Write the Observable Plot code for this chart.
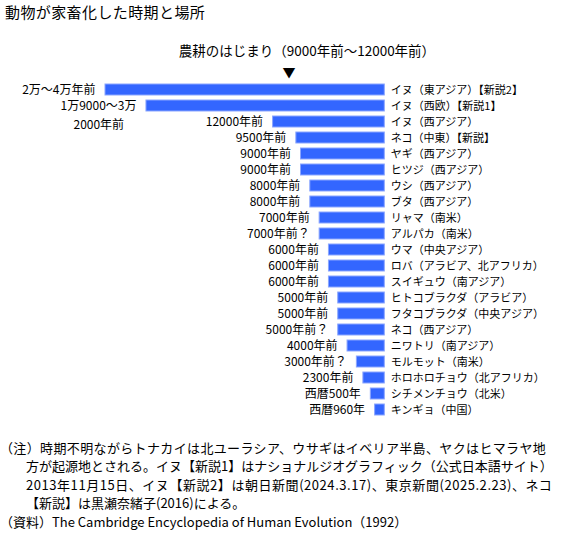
<!DOCTYPE html>
<html><head><meta charset="utf-8">
<script src="https://cdn.jsdelivr.net/npm/d3@7"></script>
<script src="https://cdn.jsdelivr.net/npm/@observablehq/plot@0.6"></script>
<style>
body{margin:0;background:#fff;font-family:"Noto Sans CJK JP",sans-serif;color:#000;width:564px;}
#title{height:26px;line-height:24px;font-size:15px;padding-left:5px;letter-spacing:0.4px;}
#notes{font-size:13px;line-height:18.4px;padding-top:3px;}
#notes div{white-space:nowrap;}
.ind{padding-left:26px;}
</style></head>
<body>
<div id="title">動物が家畜化した時期と場所</div>
<div id="chart"></div>
<div id="notes">
<div style="letter-spacing:0.36px">（注）時期不明ながらトナカイは北ユーラシア、ウサギはイベリア半島、ヤクはヒマラヤ地</div>
<div class="ind">方が起源地とされる。イヌ【新説1】はナショナルジオグラフィック（公式日本語サイト）</div>
<div class="ind" style="letter-spacing:0.55px">2013年11月15日、イヌ【新説2】は朝日新聞(2024.3.17)、東京新聞(2025.2.23)、ネコ</div>
<div class="ind">【新説】は黒瀬奈緒子(2016)による。</div>
<div>（資料）The Cambridge Encyclopedia of Human Evolution（1992）</div>
</div>
<script>
const animals = [
  "イヌ（東アジア）【新説2】","イヌ（西欧）【新説1】","イヌ（西アジア）","ネコ（中東）【新説】",
  "ヤギ（西アジア）","ヒツジ（西アジア）","ウシ（西アジア）","ブタ（西アジア）",
  "リャマ（南米）","アルパカ（南米）","ウマ（中央アジア）","ロバ（アラビア、北アフリカ）",
  "スイギュウ（南アジア）","ヒトコブラクダ（アラビア）","フタコブラクダ（中央アジア）","ネコ（西アジア）",
  "ニワトリ（南アジア）","モルモット（南米）","ホロホロチョウ（北アフリカ）","シチメンチョウ（北米）","キンギョ（中国）"
];
const timeLabels = [
  "2万〜4万年前","1万9000〜3万","12000年前","9500年前",
  "9000年前","9000年前","8000年前","8000年前",
  "7000年前","7000年前？","6000年前","6000年前",
  "6000年前","5000年前","5000年前","5000年前？",
  "4000年前","3000年前？","2300年前","西暦500年","西暦960年"
];
const yearsAgo = [30000,25600,12000,9500,9000,9000,8000,8000,7000,7000,6000,6000,6000,5000,5000,5000,4000,3000,2300,1500,1040];
const agriLabel = "農耕のはじまり（9000年前〜12000年前）";
const agriYears = 10300;
const strayLabel = "2000年前";
const strayYears = 28000;

const rows = animals.map((a,i)=>({animal:a, label:timeLabels[i], years:yearsAgo[i]}));

const chart = Plot.plot({
  width:564, height:410, marginTop:50, marginBottom:12,
  style:{fontFamily:"Noto Sans CJK JP", fontSize:"12px", color:"#000"},
  x:{domain:[0,30000], range:[384.3,105], axis:null},
  y:{domain:animals, padding:0.3, axis:null},
  marks:[
    Plot.barX(rows,{x:"years", y:"animal", fill:"#3366ff", stroke:"#8ba6ff", strokeWidth:1}),
    Plot.text(rows,{x:"years", y:"animal", text:"label", textAnchor:"end", dx:-10, fontSize:12}),
    Plot.text(rows,{x:()=>0, y:"animal", text:"animal", textAnchor:"start", dx:6, fontSize:11}),
    Plot.text([strayLabel],{x:()=>strayYears, y:()=>animals[2], text:d=>d, textAnchor:"end", dy:3, fontSize:12}),
    Plot.text(["▼"],{x:()=>agriYears, y:()=>animals[0], text:d=>d, dy:-17, fontSize:13}),
    Plot.text([agriLabel],{x:()=>agriYears, y:()=>animals[0], text:d=>d, dy:-38.5, dx:18, fontSize:13.5})
  ]
});
document.getElementById("chart").appendChild(chart);
</script>
</body></html>
